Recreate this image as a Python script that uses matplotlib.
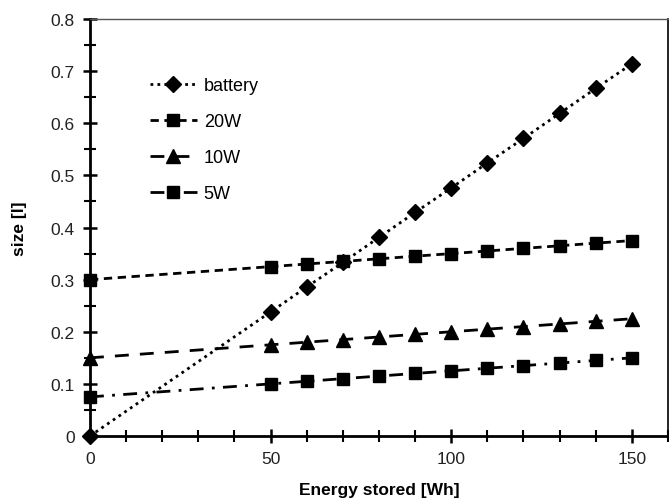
import matplotlib
matplotlib.use("Agg")
import matplotlib.pyplot as plt
from matplotlib.ticker import MultipleLocator

plt.rcParams['font.family'] = ['Liberation Sans', 'DejaVu Sans']

energy = [0, 50, 60, 70, 80, 90, 100, 110, 120, 130, 140, 150]
battery = [0.0, 0.238, 0.286, 0.333, 0.381, 0.429, 0.476, 0.524, 0.571, 0.619, 0.667, 0.714]
w20 = [0.300, 0.325, 0.330, 0.335, 0.340, 0.345, 0.350, 0.355, 0.360, 0.365, 0.370, 0.375]
w10 = [0.150, 0.175, 0.180, 0.185, 0.190, 0.195, 0.200, 0.205, 0.210, 0.215, 0.220, 0.225]
w5 = [0.075, 0.100, 0.105, 0.110, 0.115, 0.120, 0.125, 0.130, 0.135, 0.140, 0.145, 0.150]

x_ticks = [0, 50, 100, 150]
x_labels = ['0', '50', '100', '150']
y_ticks = [0, 0.1, 0.2, 0.3, 0.4, 0.5, 0.6, 0.7, 0.8]
y_labels = ['0', '0.1', '0.2', '0.3', '0.4', '0.5', '0.6', '0.7', '0.8']

fig = plt.figure(figsize=(6.69, 5.02), dpi=100)
ax = fig.add_axes([0.1345, 0.1295, 0.864, 0.8305])

common = dict(color='black', lw=2.0, clip_on=False)
ax.plot(energy, battery, linestyle=(0, (1, 1.5)), marker='D', ms=8, label='battery', **common)
ax.plot(energy, w20, linestyle=(0, (3, 2)), marker='s', ms=9, label='20W', **common)
ax.plot(energy, w10, linestyle=(0, (5, 4)), marker='^', ms=9.5, label='10W', **common)
ax.plot(energy, w5, linestyle=(0, (5, 3, 1, 3)), marker='s', ms=9, label='5W', **common)

ax.set_xlim(0, 160)
ax.set_ylim(0, 0.8)
ax.set_xticks(x_ticks, x_labels)
ax.set_yticks(y_ticks, y_labels)
ax.xaxis.set_minor_locator(MultipleLocator(10))
ax.yaxis.set_minor_locator(MultipleLocator(0.05))

ax.tick_params(axis='both', which='major', direction='inout', length=10, width=1.8,
               labelsize=12.5, top=False, right=False, pad=6, labelcolor='#222222')
ax.tick_params(axis='both', which='minor', direction='inout', length=9, width=1.5,
               top=False, right=False)

for side in ('left', 'bottom'):
    ax.spines[side].set_linewidth(2.0)
ax.spines['top'].set_linewidth(1.0)
ax.spines['top'].set_color('#555555')
ax.spines['right'].set_linewidth(1.2)

ax.set_xlabel('Energy stored [Wh]', fontsize=12.5, fontweight='bold', labelpad=11)
ax.set_ylabel('size [l]', fontsize=12.5, fontweight='bold', labelpad=17)

ax.legend(loc='upper left', bbox_to_anchor=(0.075, 0.9), frameon=False, fontsize=13,
          handlelength=2.6, labelspacing=1.05, handletextpad=0.4)

fig.savefig('out.png', dpi=100)
